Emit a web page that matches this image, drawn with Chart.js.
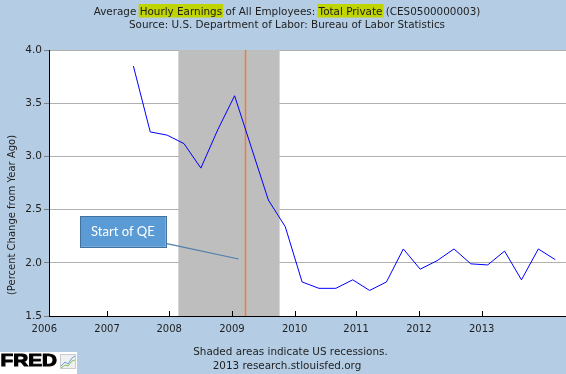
<!DOCTYPE html>
<html>
<head>
<meta charset="utf-8">
<script src="https://cdn.jsdelivr.net/npm/chart.js@4"></script>
<style>
  html, body { margin: 0; padding: 0; background: #b4cde4; }
</style>
</head>
<body>
<canvas id="chart" width="566" height="374"></canvas>
<script>
// quarterly observations, year-over-year % change
const quarters = [
  '2007-04', '2007-07', '2007-10',
  '2008-01', '2008-04', '2008-07', '2008-10',
  '2009-01', '2009-04', '2009-07', '2009-10',
  '2010-01', '2010-04', '2010-07', '2010-10',
  '2011-01', '2011-04', '2011-07', '2011-10',
  '2012-01', '2012-04', '2012-07', '2012-10',
  '2013-01', '2013-04', '2013-07'
];
const earnings = [
  3.85, 3.23, 3.20,
  3.12, 2.89, 3.25, 3.57,
  3.08, 2.59, 2.34, 1.82,
  1.76, 1.76, 1.84, 1.74,
  1.82, 2.13, 1.94, 2.02,
  2.13, 1.99, 1.98, 2.11,
  1.84, 2.13, 2.03
];
const xTickLabels = ['2006', '2007', '2008', '2009', '2010', '2011', '2012', '2013'];
// FRED places its year labels on an evenly spaced grid that drifts from Jan 1
const xTickYears = [2005.93, 2006.86, 2007.78, 2008.71, 2009.64, 2010.55, 2011.48, 2012.41];
const yTicks = [1.5, 2.0, 2.5, 3.0, 3.5, 4.0];
const recession = ['2007-12', '2009-06'];
const qeStart = '2008-11-25';

function toYear(s) {
  const p = s.split('-').map(Number);
  return p[0] + (p[1] - 1) / 12 + ((p[2] || 1) - 1) / 365;
}

const BLUE_BG = '#b4cde4';
const TXT = '#1e1e1e';
const FONT = '"DejaVu Sans", Verdana, sans-serif';

const frame = {
  id: 'frame',
  beforeDraw(chart) {
    const { ctx, chartArea: a, width, height } = chart;
    ctx.save();
    ctx.fillStyle = BLUE_BG;
    ctx.fillRect(0, 0, width, height);
    ctx.fillStyle = '#fff';
    ctx.fillRect(a.left, a.top, a.right - a.left, a.bottom - a.top);
    ctx.restore();
  },
  beforeDatasetsDraw(chart) {
    const { ctx, chartArea: a, scales: { x } } = chart;
    ctx.save();
    // recession shading
    const x0 = x.getPixelForValue(toYear(recession[0]));
    const x1 = x.getPixelForValue(toYear(recession[1]));
    ctx.fillStyle = '#bebebe';
    ctx.fillRect(x0, a.top, x1 - x0, a.bottom - a.top);
    // QE start marker
    const xq = Math.round(x.getPixelForValue(toYear(qeStart))) + 0.5;
    ctx.strokeStyle = '#ed7d31';
    ctx.lineWidth = 1.5;
    ctx.beginPath();
    ctx.moveTo(xq, a.top);
    ctx.lineTo(xq, a.bottom);
    ctx.stroke();
    ctx.restore();
  },
  afterDraw(chart) {
    const { ctx, chartArea: a, scales: { x, y } } = chart;
    ctx.save();

    // tick marks pointing into the plot
    ctx.strokeStyle = '#000';
    ctx.lineWidth = 1;
    xTickYears.forEach(v => {
      const px = Math.round(x.getPixelForValue(v)) + 0.5;
      if (px < a.left + 1) return;
      ctx.beginPath();
      ctx.moveTo(px, a.bottom - 5);
      ctx.lineTo(px, a.bottom);
      ctx.stroke();
    });

    // title with highlighted search words
    ctx.font = '10.4px ' + FONT;
    ctx.textBaseline = 'alphabetic';
    const parts = [
      ['Average ', false], ['Hourly Earnings', true], [' of All Employees: ', false],
      ['Total Private', true], [' (CES0500000003)', false]
    ];
    const total = parts.reduce((s, p) => s + ctx.measureText(p[0]).width, 0);
    let cx = 287 - total / 2;
    parts.forEach(([t, hl]) => {
      const w = ctx.measureText(t).width;
      if (hl) {
        ctx.fillStyle = '#bfd400';
        ctx.fillRect(cx - 1, 4, w + 2, 13.5);
      }
      ctx.fillStyle = TXT;
      ctx.textAlign = 'left';
      ctx.fillText(t, cx, 14.5);
      cx += w;
    });
    ctx.textAlign = 'center';
    ctx.fillText('Source: U.S. Department of Labor: Bureau of Labor Statistics', 287, 27.5);

    // footer
    ctx.fillText('Shaded areas indicate US recessions.', 290.5, 355);
    ctx.fillText('2013 research.stlouisfed.org', 287, 368.5);

    // y axis title
    ctx.save();
    ctx.font = '10px ' + FONT;
    ctx.translate(12.5, 215);
    ctx.rotate(-Math.PI / 2);
    ctx.textBaseline = 'middle';
    ctx.fillText('(Percent Change from Year Ago)', 0, 0);
    ctx.restore();

    // "Start of QE" callout, anchored in data space
    const bx0 = x.getPixelForValue(2006.46), bx1 = x.getPixelForValue(2007.73);
    const by0 = y.getPixelForValue(2.44), by1 = y.getPixelForValue(2.15);
    ctx.strokeStyle = '#4f7fab';
    ctx.lineWidth = 1.2;
    ctx.beginPath();
    ctx.moveTo(bx1 + 1, y.getPixelForValue(2.18));
    ctx.lineTo(x.getPixelForValue(2008.81), y.getPixelForValue(2.036));
    ctx.stroke();
    ctx.fillStyle = '#5b9bd5';
    ctx.fillRect(bx0, by0, bx1 - bx0, by1 - by0);
    ctx.strokeStyle = '#41719c';
    ctx.lineWidth = 1;
    ctx.strokeRect(Math.round(bx0) + 0.5, Math.round(by0) + 0.5, Math.round(bx1 - bx0), Math.round(by1 - by0));
    ctx.fillStyle = '#fff';
    ctx.font = '13px Lato, "Liberation Sans", sans-serif';
    ctx.textAlign = 'center';
    ctx.textBaseline = 'middle';
    ctx.fillText('Start of QE', (bx0 + bx1) / 2, (by0 + by1) / 2);

    // FRED logo
    ctx.fillStyle = '#fff';
    ctx.fillRect(0, 352, 77, 22);
    ctx.save();
    ctx.scale(1.22, 1);
    ctx.fillStyle = '#000';
    ctx.strokeStyle = '#000';
    ctx.lineWidth = 1;
    ctx.font = 'bold 17px "Liberation Sans", Arial, sans-serif';
    ctx.textAlign = 'left';
    ctx.textBaseline = 'alphabetic';
    ctx.fillText('FRED', 0.5, 366);
    ctx.strokeText('FRED', 0.5, 366);
    ctx.restore();
    ctx.fillStyle = '#eef0f2';
    ctx.fillRect(60, 354, 16, 15);
    ctx.strokeStyle = '#c8ccd0';
    ctx.strokeRect(60.5, 354.5, 15, 14);
    ctx.lineWidth = 1;
    ctx.strokeStyle = '#6aa0d8';
    ctx.beginPath();
    ctx.moveTo(61, 366); ctx.lineTo(65, 362); ctx.lineTo(68, 364); ctx.lineTo(72, 358); ctx.lineTo(75, 356);
    ctx.stroke();
    ctx.strokeStyle = '#8cc060';
    ctx.beginPath();
    ctx.moveTo(61, 368); ctx.lineTo(65, 365); ctx.lineTo(68, 366); ctx.lineTo(72, 361); ctx.lineTo(75, 360);
    ctx.stroke();

    ctx.restore();
  }
};

new Chart(document.getElementById('chart'), {
  type: 'line',
  data: {
    datasets: [{
      data: quarters.map((q, i) => ({ x: toYear(q), y: earnings[i] })),
      borderColor: '#0000ff',
      borderWidth: 1,
      pointRadius: 0,
      tension: 0,
      fill: false
    }]
  },
  options: {
    responsive: false,
    animation: false,
    devicePixelRatio: 1,
    layout: { padding: { top: 50, right: 0, left: 0, bottom: 0 } },
    plugins: {
      legend: { display: false },
      tooltip: { enabled: false },
      title: { display: false }
    },
    scales: {
      x: {
        type: 'linear',
        min: 2006,
        max: 2013.66,
        grid: { display: false },
        border: { display: true, color: '#000', width: 1 },
        ticks: {
          autoSkip: false,
          maxRotation: 0,
          padding: -1,
          color: TXT,
          font: { family: FONT, size: 10 },
          callback: (v, i) => xTickLabels[i]
        },
        afterBuildTicks: s => { s.ticks = xTickYears.map(v => ({ value: v })); },
        afterFit: s => { s.height = 58; }
      },
      y: {
        min: yTicks[0],
        max: yTicks[yTicks.length - 1],
        grid: { color: '#b0b0b0', tickLength: 5, tickColor: '#808080' },
        border: { display: true, color: '#000', width: 1 },
        ticks: {
          stepSize: 0.5,
          padding: 2,
          color: TXT,
          font: { family: FONT, size: 10.5 },
          callback: v => Number(v).toFixed(1)
        },
        afterBuildTicks: s => { s.ticks = yTicks.map(v => ({ value: v })); },
        afterFit: s => { s.width = 49; }
      }
    }
  },
  plugins: [frame]
});
</script>
</body>
</html>
